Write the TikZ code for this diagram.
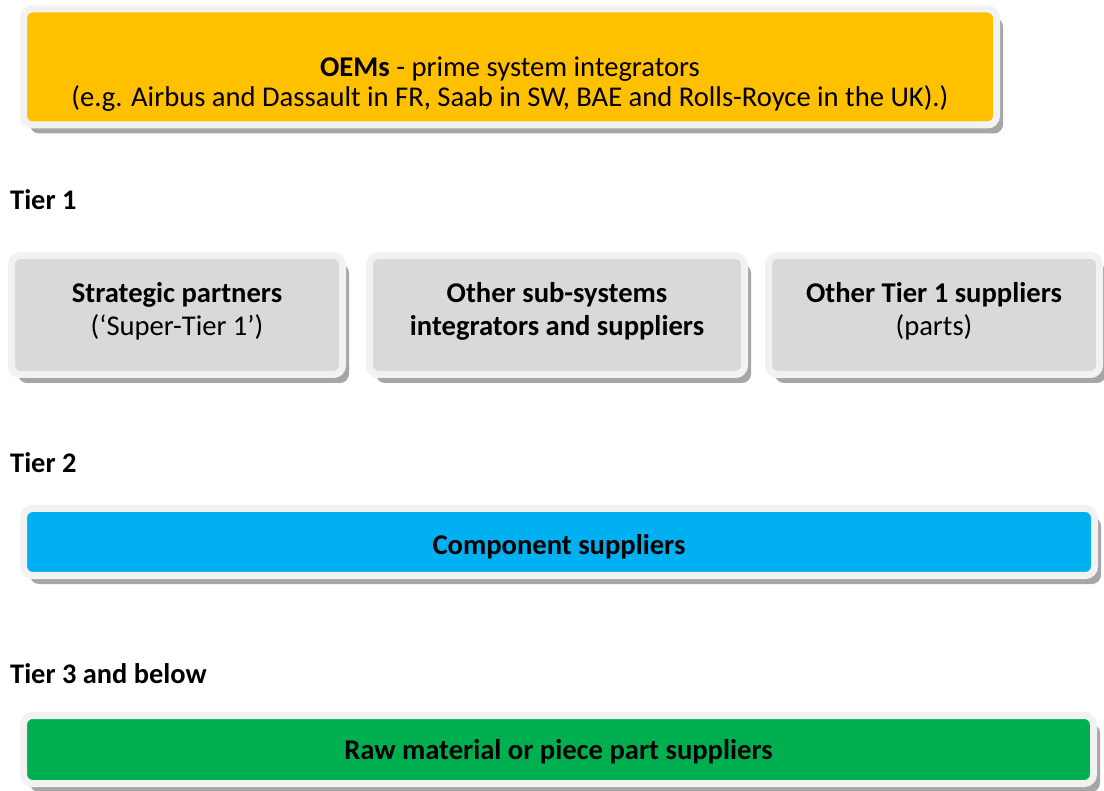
\documentclass[tikz,border=0pt]{standalone}
\usepackage{fontspec}
\setmainfont{Carlito}
\usepackage{xcolor}
\usepackage{tikz}
\usetikzlibrary{shapes,positioning,shadows}

\definecolor{oemyellow}{HTML}{FFC000}
\definecolor{tiergray}{HTML}{D9D9D9}
\definecolor{tierblue}{HTML}{00B0F0}
\definecolor{tiergreen}{HTML}{00B050}
\definecolor{rimgray}{HTML}{F2F2F2}
\definecolor{shadegray}{HTML}{A6A6A6}

\begin{document}
\begin{tikzpicture}[
    x=1pt, y=-1pt,
    node distance=20pt,
    tierbox/.style={rectangle, draw=rimgray, line width=7pt, rounded corners=9pt,
        general shadow={shadow xshift=6.5pt, shadow yshift=-8.5pt, fill=shadegray}},
    boxtext/.style={align=center, inner sep=0pt, font=\fontsize{28.6}{30}\selectfont},
    tiertitle/.style={anchor=base west, inner sep=0pt, font=\fontsize{28.4}{30}\selectfont\bfseries}
]
\useasboundingbox (0,0) rectangle (1104,791);

% OEM row
\node[tierbox, fill=oemyellow, minimum width=973pt, minimum height=116pt] (oem) at (510,67) {};
\node[boxtext] (oem-text) at (510,84) {\textbf{OEMs} - prime system integrators\\(e.g. Airbus and Dassault in FR, Saab in SW, BAE and Rolls-Royce in the UK).)};

% Tier 1
\node[tiertitle] (tier1) at (10,210) {Tier 1};
\node[tierbox, fill=tiergray, minimum width=331pt, minimum height=119pt] (t1a) at (177,315) {};
\node[tierbox, fill=tiergray, minimum width=375pt, minimum height=119pt, right=of t1a] (t1b) {};
\node[tierbox, fill=tiergray, minimum width=331pt, minimum height=119pt, right=17pt of t1b] (t1c) {};
\node[boxtext, font=\fontsize{28.6}{33}\selectfont] (t1a-text) at ([yshift=3.5pt]t1a.center) {\textbf{Strategic partners}\\(‘Super-Tier 1’)};
\node[boxtext, font=\fontsize{28.6}{33}\selectfont] (t1b-text) at ([yshift=3.5pt]t1b.center) {\textbf{Other sub-systems}\\\textbf{integrators and suppliers}};
\node[boxtext, font=\fontsize{28.6}{33}\selectfont] (t1c-text) at ([yshift=3.5pt]t1c.center) {\textbf{Other Tier 1 suppliers}\\(parts)};

% Tier 2
\node[tiertitle] (tier2) at (10,473) {Tier 2};
\node[tierbox, fill=tierblue, minimum width=1071pt, minimum height=67pt] (t2) at (559,542) {};
\node[boxtext] (t2-text) at (559,547) {\textbf{Component suppliers}};

% Tier 3 and below
\node[tiertitle] (tier3) at (10,683) {Tier 3 and below};
\node[tierbox, fill=tiergreen, minimum width=1070pt, minimum height=68pt] (t3) at (558.5,749.5) {};
\node[boxtext] (t3-text) at (558.5,752) {\textbf{Raw material or piece part suppliers}};

\end{tikzpicture}
\end{document}
